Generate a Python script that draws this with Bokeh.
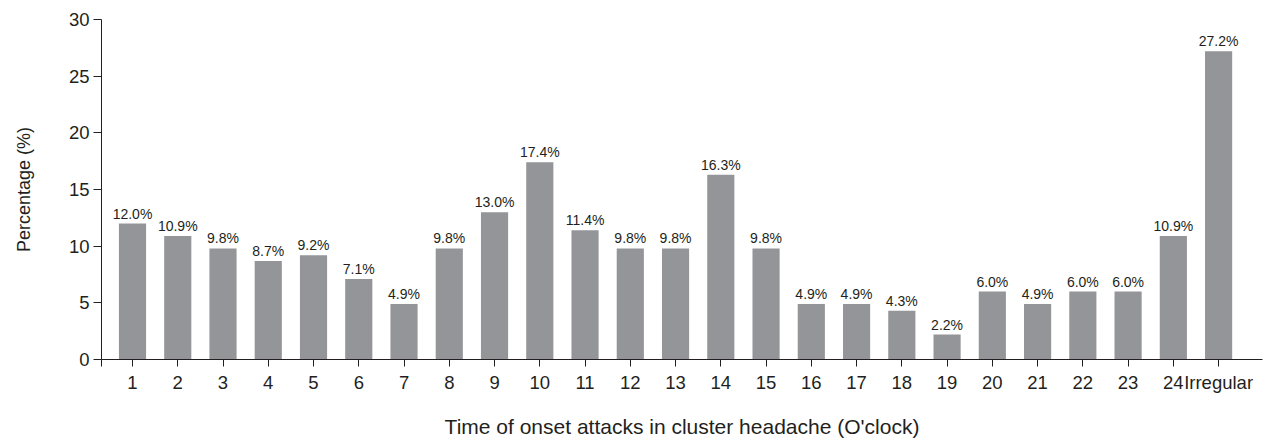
from bokeh.plotting import figure
from bokeh.models import ColumnDataSource, FixedTicker, Range1d
from bokeh.core.properties import value
from bokeh.embed import file_html
from bokeh.resources import INLINE

categories = [str(i) for i in range(1, 25)] + ["Irregular"]
percentages = [12.0, 10.9, 9.8, 8.7, 9.2, 7.1, 4.9, 9.8, 13.0, 17.4, 11.4, 9.8, 9.8,
               16.3, 9.8, 4.9, 4.9, 4.3, 2.2, 6.0, 4.9, 6.0, 6.0, 10.9, 27.2]
y_ticks = [0, 5, 10, 15, 20, 25, 30]

FONT = "Liberation Sans"
TXT = "#231f20"

xs = list(range(1, len(categories) + 1))
labels = ["%.1f%%" % v for v in percentages]
src = ColumnDataSource(dict(x=xs, top=percentages, label=labels))

x_start = 0.315
x_end = len(categories) + 0.97

p = figure(width=1272, height=441, output_backend="svg", toolbar_location=None,
           x_range=Range1d(x_start, x_end), y_range=Range1d(0, 30),
           min_border_left=101, min_border_right=10, min_border_top=19, min_border_bottom=82)
p.outline_line_color = None
p.xgrid.grid_line_color = None
p.ygrid.grid_line_color = None
p.background_fill_color = "white"

p.vbar(x="x", top="top", width=0.6, bottom=0, source=src,
       fill_color="#939598", line_color=None)
p.text(x="x", y="top", text="label", source=src, text_align="center",
       text_baseline="alphabetic", y_offset=-10, text_font=value(FONT),
       text_font_size="14px", text_color=TXT)

xa = p.xaxis[0]
xa.ticker = FixedTicker(ticks=[x_start] + xs)
overrides = {x: c for x, c in zip(xs, categories)}
overrides[x_start] = ""
xa.major_label_overrides = overrides
xa.major_tick_out = 7
xa.major_tick_in = 0
xa.minor_tick_out = 0
xa.minor_tick_in = 0
xa.major_label_standoff = 5
xa.major_label_text_font = FONT
xa.major_label_text_font_size = "18.5px"
xa.major_label_text_color = TXT
xa.axis_label = "Time of onset attacks in cluster headache (O'clock)"
xa.axis_label_text_font = FONT
xa.axis_label_text_font_size = "21px"
xa.axis_label_text_font_style = "normal"
xa.axis_label_text_color = TXT
xa.axis_label_standoff = 19
xa.axis_line_color = TXT
xa.major_tick_line_color = TXT

ya = p.yaxis[0]
ya.ticker = FixedTicker(ticks=y_ticks)
ya.major_tick_out = 8
ya.major_tick_in = 0
ya.minor_tick_out = 0
ya.minor_tick_in = 0
ya.major_label_standoff = 4
ya.major_label_text_font = FONT
ya.major_label_text_font_size = "18.5px"
ya.major_label_text_color = TXT
ya.axis_label = "Percentage (%)"
ya.axis_label_text_font = FONT
ya.axis_label_text_font_size = "18px"
ya.axis_label_text_font_style = "normal"
ya.axis_label_text_color = TXT
ya.axis_label_standoff = 32
ya.axis_line_color = TXT
ya.major_tick_line_color = TXT

open("out.html", "w").write(file_html(p, INLINE))
